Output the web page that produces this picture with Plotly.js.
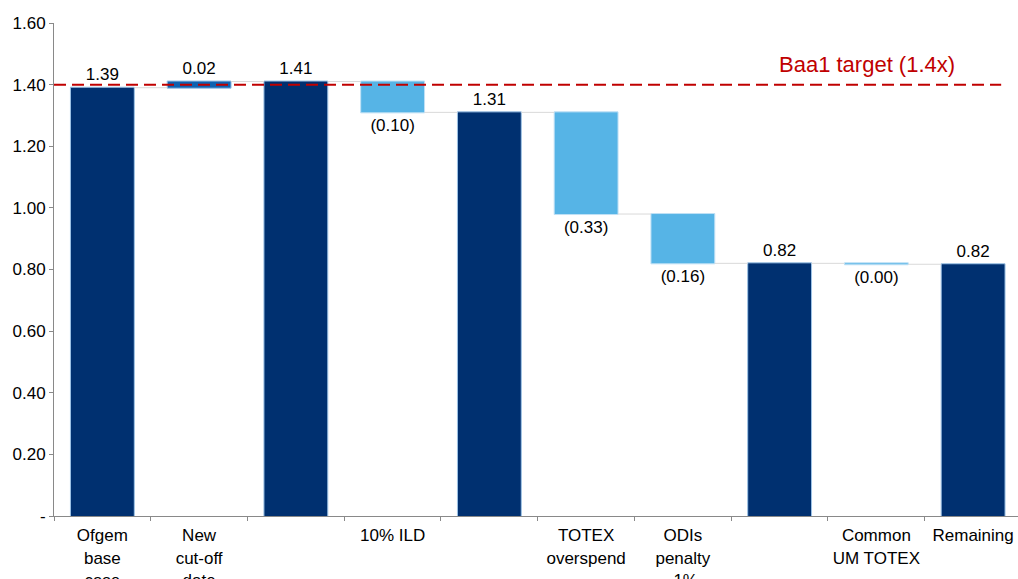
<!DOCTYPE html>
<html>
<head>
<meta charset="utf-8">
<script src="https://cdn.plot.ly/plotly-3.0.1.min.js"></script>
<style>
  html, body { margin: 0; padding: 0; background: #fff; }
  #chart { width: 1018px; height: 579px; }
</style>
</head>
<body>
<div id="chart"></div>
<script>
// Leverage ratio bridge: base case through adjustments to the remaining ratio
const categories = [
  'Ofgem<br>base<br>case',
  'New<br>cut-off<br>date',
  '',
  '10% ILD',
  '',
  'TOTEX<br>overspend',
  'ODIs<br>penalty<br>-1%',
  '',
  'Common<br>UM TOTEX',
  'Remaining'
];
const measures = ['absolute', 'relative', 'total', 'relative', 'total',
                  'relative', 'relative', 'total', 'relative', 'total'];
const values = [1.39, 0.02, 0, -0.10, 0, -0.33, -0.16, 0, -0.003, 0];
const targetLevel = 1.4;
const targetLabel = 'Baa1 target (1.4x)';
const yTickVals = [0, 0.2, 0.4, 0.6, 0.8, 1.0, 1.2, 1.4, 1.6];
const yTickText = ['-', '0.20', '0.40', '0.60', '0.80', '1.00', '1.20', '1.40', '1.60'];

const NAVY = '#003070';
const LIGHT = '#56B4E6';
const MID = '#0F62B0';
const RED = '#C00000';
const FONT = 'Liberation Sans, Arial, sans-serif';

// Running totals give the labels of the total bars
let running = 0;
const labels = values.map((v, i) => {
  const m = measures[i];
  if (m === 'absolute') { running = v; return v.toFixed(2); }
  if (m === 'total') { return running.toFixed(2); }
  running += v;
  return v < 0 ? '(' + Math.abs(v).toFixed(2) + ')' : v.toFixed(2);
});

const xs = categories.map((_, i) => i);

const trace = {
  type: 'waterfall',
  x: xs,
  y: values,
  measure: measures,
  text: labels,
  textposition: 'outside',
  textfont: { family: FONT, size: 17, color: '#000' },
  cliponaxis: false,
  width: 0.66,
  connector: { mode: 'between', line: { color: '#d9d9d9', width: 1 } },
  increasing: { marker: { color: MID, line: { color: '#9dc3e6', width: 1 } } },
  decreasing: { marker: { color: LIGHT, line: { color: '#bfe0f5', width: 1 } } },
  totals: { marker: { color: NAVY, line: { color: '#9dc3e6', width: 1 } } },
  hoverinfo: 'skip'
};

const boundaries = [];
for (let i = 0; i <= categories.length; i++) boundaries.push(i - 0.5);

const layout = {
  width: 1018,
  height: 579,
  margin: { l: 54, r: 0, t: 23, b: 63 },
  paper_bgcolor: '#fff',
  plot_bgcolor: '#fff',
  showlegend: false,
  font: { family: FONT, size: 17, color: '#000' },
  xaxis: {
    range: [-0.5, 9.464],
    tickmode: 'array',
    tickvals: xs,
    ticktext: categories,
    ticks: '',
    ticklabelstandoff: 4,
    showline: true,
    linecolor: '#898989',
    linewidth: 1,
    showgrid: false,
    zeroline: false,
    tickfont: { family: FONT, size: 17, color: '#000' },
    minor: {
      tickmode: 'array',
      tickvals: boundaries,
      ticks: 'outside',
      ticklen: 4,
      tickcolor: '#898989',
      showgrid: false
    }
  },
  yaxis: {
    range: [0, 1.6],
    tickmode: 'array',
    tickvals: yTickVals,
    ticktext: yTickText,
    ticks: 'outside',
    ticklen: 4,
    tickcolor: '#898989',
    showline: true,
    linecolor: '#898989',
    linewidth: 1,
    showgrid: false,
    zeroline: false,
    tickfont: { family: FONT, size: 17, color: '#000' }
  },
  shapes: [{
    type: 'line',
    xref: 'x', yref: 'y',
    x0: -0.5, x1: 9.29,
    y0: targetLevel, y1: targetLevel,
    line: { color: RED, width: 2, dash: '12px,6px' },
    layer: 'above'
  }],
  annotations: [{
    xref: 'x', yref: 'y',
    x: 7.9, y: 1.464,
    text: targetLabel,
    showarrow: false,
    font: { family: FONT, size: 22, color: RED },
    xanchor: 'center', yanchor: 'middle'
  }]
};

Plotly.newPlot('chart', [trace], layout, { displayModeBar: false, staticPlot: true });
</script>
</body>
</html>
